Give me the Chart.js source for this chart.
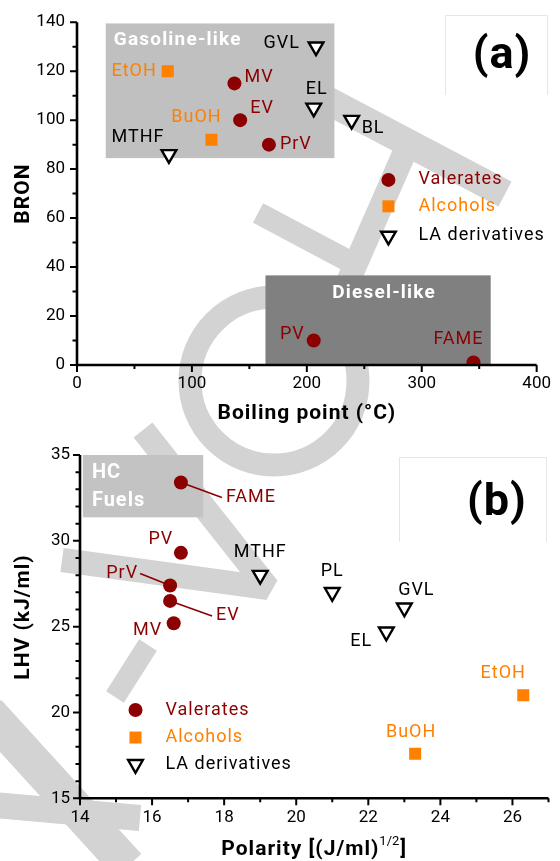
<!DOCTYPE html>
<html><head><meta charset="utf-8">
<script src="https://cdn.jsdelivr.net/npm/chart.js@4.4.1/dist/chart.umd.min.js"></script>
<style>
html,body{margin:0;padding:0;background:#fff;}
#wrap{position:relative;width:560px;height:861px;overflow:hidden;background:#fff;}
#wm{position:absolute;left:0;top:0;}
.pane{position:absolute;left:0;width:560px;}
canvas{display:block;}
</style></head><body>
<div id="wrap">
<svg id="wm" width="560" height="861">
 <g fill="none" stroke="#d3d3d3">
  <line x1="300" y1="86" x2="505" y2="194" stroke-width="28"/>
  <line x1="410" y1="140" x2="340" y2="300" stroke-width="24"/>
  <line x1="258" y1="213" x2="356" y2="265" stroke-width="22"/>
  <circle cx="274" cy="381" r="84" stroke-width="23"/>
  <polyline points="143,430 268,588 62,560" stroke-width="24" stroke-linejoin="bevel"/>
  <line x1="148" y1="645" x2="115" y2="697" stroke-width="21"/>
  <line x1="-12" y1="712" x2="128" y2="866" stroke-width="36"/>
  <line x1="-5" y1="805" x2="140" y2="818" stroke-width="26"/>
 </g>
</svg>
<div class="pane" style="top:0;height:430px"><canvas id="chartA" width="560" height="430"></canvas></div>
<div class="pane" style="top:430px;height:431px"><canvas id="chartB" width="560" height="431"></canvas></div>
</div>
<script>
// ---------------- Panel (a): BRON vs boiling point ----------------
const aValerateNames = ['MV', 'EV', 'PrV', 'PV', 'FAME'];
const aValerateBP    = [137, 142, 167, 206, 345];
const aValerateRON   = [115, 100, 90, 10, 1];
const aAlcoholNames  = ['EtOH', 'BuOH'];
const aAlcoholBP     = [79, 117];
const aAlcoholRON    = [120, 92];
const aLANames       = ['GVL', 'EL', 'BL', 'MTHF'];
const aLABP          = [208, 206, 239, 80];
const aLARON         = [130, 105, 100, 86];
const aXTicks = [0, 100, 200, 300, 400];
const aXMinor = [50, 150, 250, 350];
const aYTicks = [0, 20, 40, 60, 80, 100, 120, 140];
const aYMinor = [10, 30, 50, 70, 90, 110, 130];

// ---------------- Panel (b): LHV vs polarity ----------------
const bValerateNames    = ['FAME', 'PV', 'PrV', 'EV', 'MV'];
const bValeratePolarity = [16.8, 16.8, 16.5, 16.5, 16.6];
const bValerateLHV      = [33.4, 29.3, 27.4, 26.5, 25.2];
const bAlcoholNames     = ['EtOH', 'BuOH'];
const bAlcoholPolarity  = [26.3, 23.3];
const bAlcoholLHV       = [21.0, 17.6];
const bLANames          = ['MTHF', 'PL', 'GVL', 'EL'];
const bLAPolarity       = [19.0, 21.0, 23.0, 22.5];
const bLALHV            = [28.0, 27.0, 26.1, 24.7];
const bXTicks = [14, 16, 18, 20, 22, 24, 26];
const bXMinor = [15, 17, 19, 21, 23, 25, 27];
const bYTicks = [15, 20, 25, 30, 35];
const bYMinor = [16, 17, 18, 19, 21, 22, 23, 24, 26, 27, 28, 29, 31, 32, 33, 34];

const legendNames = ['Valerates', 'Alcohols', 'LA derivatives'];

// ---------------- styling ----------------
const FONT = 'Roboto, "Liberation Sans", sans-serif';
const C_VAL = '#8b0000', C_ALC = '#ff8000', C_LA = '#000000';
const LABEL_SIZE = 18;
const STY = {
  val: {pointStyle: 'circle', radius: 7, rotation: 0, borderWidth: 0, fill: C_VAL, stroke: C_VAL, text: C_VAL},
  alc: {pointStyle: 'rect', radius: 8.5, rotation: 0, borderWidth: 0, fill: C_ALC, stroke: C_ALC, text: C_ALC},
  la:  {pointStyle: 'triangle', radius: 8.5, rotation: 180, borderWidth: 2.4, fill: '#ffffff', stroke: '#000000', text: C_LA}
};

// label placement (pixel offsets from the point)
const aPlace = {
  MV: {dx: 10, dy: -6, align: 'left'}, EV: {dx: 10, dy: -12, align: 'left'},
  PrV: {dx: 11, dy: 0, align: 'left'}, PV: {dx: -9, dy: -6, align: 'right'},
  FAME: {dx: -15, dy: -23, align: 'center'},
  EtOH: {dx: -11, dy: 0, align: 'right'}, BuOH: {dx: -15, dy: -22, align: 'center'},
  GVL: {dx: -16, dy: -3, align: 'right'}, EL: {dx: 3, dy: -18, align: 'center'},
  BL: {dx: 10, dy: 8, align: 'left'}, MTHF: {dx: -31, dy: -17, align: 'center'}
};
const bPlace = {
  FAME: {dx: 45, dy: 15, align: 'left', leader: [41, 15]},
  PV: {dx: -20, dy: -13, align: 'center'},
  PrV: {dx: -32, dy: -12, align: 'right', leader: [-30, -12]},
  EV: {dx: 46, dy: 15, align: 'left', leader: [42, 15]},
  MV: {dx: -26, dy: 7, align: 'center'},
  MTHF: {dx: 0, dy: -23, align: 'center'}, PL: {dx: 0, dy: -21, align: 'center'},
  GVL: {dx: 12, dy: -17, align: 'center'}, EL: {dx: -25, dy: 10, align: 'center'},
  EtOH: {dx: -20, dy: -22, align: 'center'}, BuOH: {dx: -4, dy: -21, align: 'center'}
};

function mkDataset(xs, ys, st) {
  return {
    data: xs.map((x, i) => ({x: x, y: ys[i]})),
    pointStyle: st.pointStyle, pointRadius: st.radius, pointRotation: st.rotation,
    pointBorderWidth: st.borderWidth, pointBackgroundColor: st.fill, pointBorderColor: st.stroke,
    pointHoverRadius: st.radius, showLine: false,
    clip: {left: 20, right: 20, top: 20, bottom: 0}
  };
}

function txt(ctx, s, x, y, o) {
  ctx.save();
  ctx.font = (o.bold ? 'bold ' : '') + o.size + 'px ' + FONT;
  ctx.fillStyle = o.color || '#000';
  ctx.textAlign = o.align || 'left';
  ctx.textBaseline = o.baseline || 'middle';
  try { ctx.letterSpacing = (o.spacing || 0) + 'px'; } catch (e) {}
  if (o.rotate) { ctx.translate(x, y); ctx.rotate(o.rotate); ctx.fillText(s, 0, 0); }
  else ctx.fillText(s, x, y);
  ctx.restore();
}

function marker(ctx, st, x, y) {
  ctx.save();
  ctx.fillStyle = st.fill; ctx.strokeStyle = st.stroke; ctx.lineWidth = st.borderWidth;
  Chart.helpers.drawPoint(ctx, {pointStyle: st.pointStyle, radius: st.radius, rotation: st.rotation, borderWidth: st.borderWidth}, x, y);
  ctx.restore();
}

function fillBox(chart, b, color) {
  const xs = chart.scales.x, ys = chart.scales.y;
  const x0 = xs.getPixelForValue(b.x0), x1 = xs.getPixelForValue(b.x1);
  const y0 = ys.getPixelForValue(b.y1), y1 = ys.getPixelForValue(b.y0);
  chart.ctx.fillStyle = color;
  chart.ctx.fillRect(x0, y0, x1 - x0, y1 - y0);
  return {x0, x1, y0, y1};
}

function labelBox(ctx, x0, y0, x1, y1, s, cx, cy) {
  ctx.save();
  ctx.fillStyle = '#fff'; ctx.fillRect(x0, y0, x1 - x0, y1 - y0);
  ctx.strokeStyle = '#e6e6e6'; ctx.lineWidth = 1;
  ctx.beginPath(); ctx.moveTo(x0 + 0.5, y1); ctx.lineTo(x0 + 0.5, y0 + 0.5); ctx.lineTo(x1 - 0.5, y0 + 0.5); ctx.lineTo(x1 - 0.5, y1); ctx.stroke();
  ctx.restore();
  txt(ctx, s, cx, cy, {size: 45, bold: true, align: 'center', spacing: 1});
}

function drawAxes(chart, xMaj, xMin, yMaj, yMin) {
  const ctx = chart.ctx, a = chart.chartArea, xs = chart.scales.x, ys = chart.scales.y;
  ctx.save();
  ctx.strokeStyle = '#000'; ctx.lineWidth = 2.6; ctx.lineJoin = 'miter';
  ctx.beginPath(); ctx.moveTo(a.left, a.top); ctx.lineTo(a.left, a.bottom); ctx.lineTo(a.right, a.bottom); ctx.stroke();
  ctx.lineWidth = 2;
  ctx.beginPath();
  xMaj.forEach(v => { const p = xs.getPixelForValue(v); ctx.moveTo(p, a.bottom); ctx.lineTo(p, a.bottom + 7); });
  xMin.forEach(v => { const p = xs.getPixelForValue(v); ctx.moveTo(p, a.bottom); ctx.lineTo(p, a.bottom + 4); });
  yMaj.forEach(v => { const p = ys.getPixelForValue(v); ctx.moveTo(a.left, p); ctx.lineTo(a.left - 7, p); });
  yMin.forEach(v => { const p = ys.getPixelForValue(v); ctx.moveTo(a.left, p); ctx.lineTo(a.left - 4.5, p); });
  ctx.stroke();
  ctx.restore();
}

function drawPointLabels(chart, groups) {
  const ctx = chart.ctx;
  groups.forEach(g => {
    const meta = chart.getDatasetMeta(g.ds);
    g.names.forEach((name, j) => {
      const el = meta.data[j]; const pl = g.place[name];
      if (pl.leader) {
        const ex = el.x + pl.leader[0], ey = el.y + pl.leader[1];
        const d = Math.hypot(ex - el.x, ey - el.y);
        ctx.save(); ctx.strokeStyle = g.st.text; ctx.lineWidth = 1.6;
        ctx.beginPath(); ctx.moveTo(el.x + (ex - el.x) / d * 6, el.y + (ey - el.y) / d * 6); ctx.lineTo(ex, ey); ctx.stroke();
        ctx.restore();
      }
      txt(ctx, name, el.x + pl.dx, el.y + pl.dy, {size: LABEL_SIZE, color: g.st.text, align: pl.align, spacing: 1});
    });
  });
}

function drawLegend(chart, lx, lys) {
  const ctx = chart.ctx;
  const x = chart.scales.x.getPixelForValue(lx);
  const sts = [STY.val, STY.alc, STY.la];
  lys.forEach((ly, i) => {
    const y = chart.scales.y.getPixelForValue(ly);
    marker(ctx, sts[i], x, y);
    txt(ctx, legendNames[i], x + 30, y, {size: LABEL_SIZE, color: sts[i].text, spacing: 1});
  });
}

function scaleOpts(min, max, ticksArr, fitKey, fitVal, pad) {
  return {
    type: 'linear', min: min, max: max,
    afterBuildTicks: s => { s.ticks = ticksArr.map(v => ({value: v})); },
    grid: {display: false, drawTicks: false},
    border: {display: false},
    ticks: {color: '#000', font: {family: FONT, size: 17}, padding: pad, autoSkip: false, maxRotation: 0},
    afterFit: s => { s[fitKey] = fitVal; }
  };
}

// ---------------- annotation regions (data units) ----------------
const aGasolineBox = {x0: 25, x1: 224, y0: 84.5, y1: 139.5};
const aDieselBox = {x0: 164, x1: 360, y0: 0, y1: 36.6};
const bHCBox = {x0: 14.08, x1: 17.42, y0: 31.37, y1: 35};

const pluginA = {
  id: 'panelA',
  beforeDraw(chart) {
    const ctx = chart.ctx;
    ctx.save();
    const g = fillBox(chart, aGasolineBox, '#c0c0c0');
    const d = fillBox(chart, aDieselBox, '#808080');
    ctx.restore();
    txt(ctx, 'Gasoline-like', g.x0 + 8, g.y0 + 17, {size: 19, bold: true, color: '#fff', spacing: 1.2});
    txt(ctx, 'Diesel-like', (d.x0 + d.x1) / 2 + 6, d.y0 + 18, {size: 19, bold: true, color: '#fff', align: 'center', spacing: 1.2});
    labelBox(ctx, 445, 15, 548, 95, '(a)', 502, 57);
  },
  afterDatasetsDraw(chart) {
    const ctx = chart.ctx, a = chart.chartArea;
    drawAxes(chart, aXTicks, aXMinor, aYTicks, aYMinor);
    drawPointLabels(chart, [
      {ds: 0, names: aValerateNames, place: aPlace, st: STY.val},
      {ds: 1, names: aAlcoholNames, place: aPlace, st: STY.alc},
      {ds: 2, names: aLANames, place: aPlace, st: STY.la}
    ]);
    drawLegend(chart, 271, [75.6, 64.8, 52.7]);
    txt(ctx, 'BRON', 24, (a.top + a.bottom) / 2, {size: 21, bold: true, align: 'center', rotate: -Math.PI / 2, spacing: 1});
    txt(ctx, 'Boiling point (°C)', (a.left + a.right) / 2, 419, {size: 21, bold: true, align: 'center', baseline: 'alphabetic', spacing: 1});
  }
};

const pluginB = {
  id: 'panelB',
  beforeDraw(chart) {
    const ctx = chart.ctx;
    ctx.save();
    const h = fillBox(chart, bHCBox, '#c3c3c3');
    ctx.restore();
    txt(ctx, 'HC', h.x0 + 9, h.y0 + 18, {size: 20, bold: true, color: '#fff', spacing: 1});
    txt(ctx, 'Fuels', h.x0 + 9, h.y0 + 46, {size: 20, bold: true, color: '#fff', spacing: 1});
    labelBox(ctx, 399, 27, 547, 112, '(b)', 497, 74);
  },
  afterDatasetsDraw(chart) {
    const ctx = chart.ctx, a = chart.chartArea;
    drawAxes(chart, bXTicks, bXMinor, bYTicks, bYMinor);
    drawPointLabels(chart, [
      {ds: 0, names: bValerateNames, place: bPlace, st: STY.val},
      {ds: 1, names: bAlcoholNames, place: bPlace, st: STY.alc},
      {ds: 2, names: bLANames, place: bPlace, st: STY.la}
    ]);
    drawLegend(chart, 15.54, [20.14, 18.54, 16.98]);
    txt(ctx, 'LHV (kJ/ml)', 24, 187, {size: 21, bold: true, align: 'center', rotate: -Math.PI / 2, spacing: 1});
    // x title with superscript
    ctx.save();
    const main = 'Polarity [(J/ml)', sup = '1/2', tail = ']';
    ctx.font = 'bold 21px ' + FONT; try { ctx.letterSpacing = '1px'; } catch (e) {}
    const wMain = ctx.measureText(main).width, wTail = ctx.measureText(tail).width;
    ctx.font = '13px ' + FONT; try { ctx.letterSpacing = '0px'; } catch (e) {}
    const wSup = ctx.measureText(sup).width;
    ctx.restore();
    const total = wMain + wSup + wTail + 1;
    const x0 = (a.left + a.right) / 2 - total / 2, base = 425;
    txt(ctx, main, x0, base, {size: 21, bold: true, baseline: 'alphabetic', spacing: 1});
    txt(ctx, sup, x0 + wMain, base - 10, {size: 13, baseline: 'alphabetic', spacing: 0});
    txt(ctx, tail, x0 + wMain + wSup + 1, base, {size: 21, bold: true, baseline: 'alphabetic', spacing: 1});
  }
};

const commonPlugins = {legend: {display: false}, tooltip: {enabled: false}, title: {display: false}};

new Chart(document.getElementById('chartA'), {
  type: 'scatter',
  data: {datasets: [
    mkDataset(aValerateBP, aValerateRON, STY.val),
    mkDataset(aAlcoholBP, aAlcoholRON, STY.alc),
    mkDataset(aLABP, aLARON, STY.la)
  ]},
  options: {
    responsive: false, animation: false, events: [],
    layout: {padding: {top: 22, right: 18, left: 0, bottom: 0}},
    plugins: commonPlugins,
    scales: {
      x: scaleOpts(0, 400, aXTicks, 'height', 65, 9),
      y: scaleOpts(0, 140, aYTicks, 'width', 77, 12)
    }
  },
  plugins: [pluginA]
});

new Chart(document.getElementById('chartB'), {
  type: 'scatter',
  data: {datasets: [
    mkDataset(bValeratePolarity, bValerateLHV, STY.val),
    mkDataset(bAlcoholPolarity, bAlcoholLHV, STY.alc),
    mkDataset(bLAPolarity, bLALHV, STY.la)
  ]},
  options: {
    responsive: false, animation: false, events: [],
    layout: {padding: {top: 25, right: 11.5, left: 0, bottom: 0}},
    plugins: commonPlugins,
    scales: {
      x: scaleOpts(14, 27, bXTicks, 'height', 62.7, 9),
      y: scaleOpts(15, 35, bYTicks, 'width', 80, 10)
    }
  },
  plugins: [pluginB]
});
</script>
</body></html>
